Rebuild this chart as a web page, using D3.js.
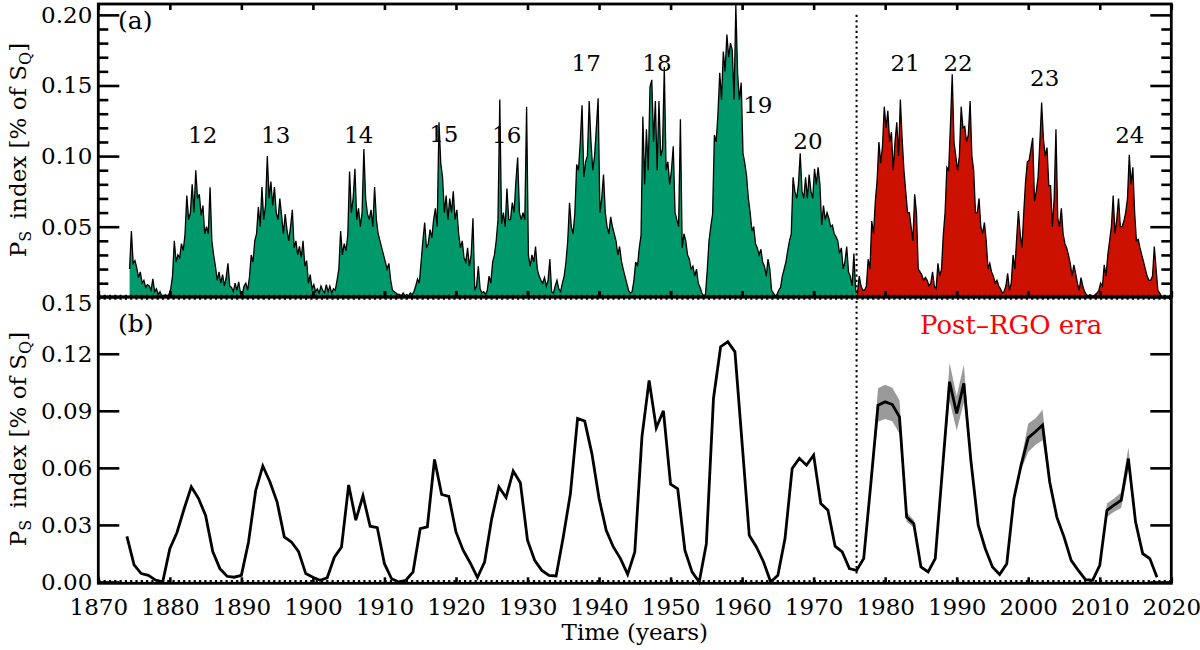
<!DOCTYPE html>
<html><head><meta charset="utf-8">
<script src="https://cdn.jsdelivr.net/npm/d3@7"></script>
<style>
body{margin:0;background:#fff}
svg{display:block}
text{font-family:"DejaVu Serif",serif;fill:#000}
</style>
</head><body>
<svg id="c" width="1200" height="650"></svg>
<script>
// ---------- DATA ----------
// Panel (a): PS index, quarterly samples, units of 0.001 % of SQ
const psStart = 1874.375;
const psStep = 0.25;
const psQuarterly = [
 20,47,24,
 26,21,14,18, 10,12,7,9, 8,5,13,4, 6,2,4,1, 1,2,1,2,
 6,15,40,25, 30,28,38,33, 45,72,55,60, 80,60,90,70, 73,58,65,45,
 50,45,78,40, 30,22,12,18, 10,16,8,14, 24,8,7,4, 10,5,11,3,
 2,8,10,5, 14,30,25,40, 45,64,50,78, 55,65,100,70, 82,65,78,60,
 55,70,58,45, 59,48,40,50, 62,35,40,30, 36,28,40,22, 26,10,16,6,
 9,4,6,3, 8,5,3,9, 4,8,3,6, 5,12,20,47, 30,38,33,44,
 89,60,70,91, 55,63,50,60, 105,70,59,55, 62,50,78,55, 45,40,35,30,
 25,20,24,12, 5,4,3,2, 2,1,3,1, 2,1,3,2, 4,8,13,10,
 25,40,53,35, 38,48,42,55, 63,50,124,95, 85,60,72,55, 70,60,75,55,
 62,45,35,40, 28,25,35,22, 30,56,5,8, 22,6,3,4, 2,5,15,10,
 25,30,40,55, 140,52,60,50, 77,55,55,67, 60,82,99,60, 55,60,55,135,
 30,22,30,25, 36,20,15,12, 10,14,8,12, 27,4,3,8, 12,6,4,10,
 15,25,40,67, 50,45,60,94, 90,110,136,85, 96,100,139,110, 90,100,120,141,
 60,70,87,60, 50,45,57,50, 45,40,30,36, 26,20,15,10, 5,3,4,12,
 25,22,35,44, 128,80,119,90, 149,154,110,139, 90,139,100,105, 163,90,96,80,
 90,107,60,55, 50,126,35,45, 40,30,27,20, 22,15,20,10, 7,3,1,2,
 19,40,50,59, 115,110,130,159, 140,174,160,186, 170,180,175,140, 207,158,140,152,
 102,95,86,70, 60,47,50,38, 35,30,34,25, 22,15,27,20, 5,3,1,2,
 5,7,15,20, 25,33,40,45, 85,75,70,80, 102,75,70,85, 70,87,75,70,
 91,80,92,80, 51,65,55,60, 56,50,51,45, 43,40,31,35, 20,25,36,18,
 15,8,31,5, 3,15,8,5, 5,8,27,20, 54,45,68,83, 110,95,107,135,
 120,132,110,117, 90,110,124,100, 140,112,90,75, 60,60,50,40, 73,60,20,18,
 16,12,14,12, 8,10,18,8, 6,24,15,20, 44,60,92,90, 122,158,110,100,
 90,100,135,120, 121,110,115,139, 100,90,60,60, 70,50,45,53, 40,20,24,18,
 15,10,12,8, 6,3,4,8, 17,5,10,30, 20,41,61,45, 35,60,82,96,
 97,105,113,68, 75,85,110,138, 112,100,106,79, 79,50,70,119, 56,50,63,45,
 38,35,30,24, 15,23,17,10, 5,14,8,4, 2,1,2,1, 1,2,3,5,
 10,8,23,15, 30,40,50,72, 45,55,70,50, 50,54,60,70, 101,80,92,60,
 40,41,35,30, 25,20,15,12, 12,15,36,20, 5,3,1
];
const eraSplitYear = 1976;   // start of post-RGO era
const cycleNames  = ["12","13","14","15","16","17","18","19","20","21","22","23","24"];
const cycleYears  = [1884.6,1894.8,1906.4,1918.3,1927.1,1938.2,1948.1,1962.2,1969.2,1982.8,1990.2,2002.3,2014.2];
const cycleLevels = [0.115,0.115,0.115,0.1155,0.115,0.166,0.166,0.136,0.111,0.166,0.166,0.1555,0.115];

// Panel (b): annual PS index, units of 0.001 % of SQ
const annualStart = 1874;
const psAnnual = [
 24,9,4.4,3.5,1,0,                          // 1874-1879
 17.5,26,38.5,50,44,35,16,7,3,2.5,           // 1880-1889
 3.5,21,48,61,52.6,42,23.7,21,16,4.4,        // 1890-1899
 2.5,0.9,2.2,13,18.4,51,32.5,45.3,29.3,28.6, // 1900-1909
 9.6,1.7,0,0.9,5.3,28,29,64.4,46,45,         // 1910-1919
 26.3,16.7,10,2.3,10.5,33.3,50,44.4,58.3,52.2, // 1920-1929
 22,11.4,6.1,3.5,3.2,23.7,46.5,86,84.6,67.5, // 1930-1939
 44,27.2,18.4,12.3,4,15.8,76.3,106,81,90,    // 1940-1949
 51.4,49,16.7,5.3,0,20,96.5,123.7,126.3,121, // 1950-1959
 73,24.6,18.4,10.5,0,3.5,22.8,59.7,65,61.4,  // 1960-1969
 66.7,41.2,37.7,18.8,15.8,7,6.1,12.3,51.8,93, // 1970-1979
 94.7,93.3,86.8,34.1,30.6,7.9,5.3,12.3,58.8,105.3, // 1980-1989
 88.6,104.4,63.3,30,17.5,7.9,3.9,9.6,43.9,61.4,   // 1990-1999
 75.8,79,82.5,52.6,34.1,23.7,11.4,6.1,1.2,0.9,    // 2000-2009
 8.8,37.7,40.4,43,64.9,31.6,14.9,12.3,2.5         // 2010-2018
];
// uncertainty (half-width) of annual values from 1976 on, units of 0.001 %
const errStart = 1976;
const psAnnualErr = [
 0.3,0.5,1.5,8.8,                      // 1976-1979
 9,8.8,8.8,2.5,2,0.8,0.6,1,3,10,       // 1980-1989
 9,10,3,1.5,1,0.6,0.4,0.6,1.5,2.5,     // 1990-1999
 7.5,7,8,2.5,1.5,1,0.8,0.5,0.2,0.2,    // 2000-2009
 0.8,3.5,3.5,4,6,1.5,1,1,0.5           // 2010-2018
];
const xTicks = [1870,1880,1890,1900,1910,1920,1930,1940,1950,1960,1970,1980,1990,2000,2010,2020];
const yTopTicks = [0.05,0.10,0.15,0.20];
const yBotTicks = [0.00,0.03,0.06,0.09,0.12,0.15];

// ---------- CHART ----------
const svg = d3.select("#c");
const L = 98.3, R = 1171.3, T = 4, MID = 297, B = 583.3;
const FS = 23;
const x = d3.scaleLinear().domain([1870,2020]).range([L,R]);
const yTop = d3.scaleLinear().domain([0,0.2077]).range([297.3,T]);
const yBot = d3.scaleLinear().domain([-0.0007,0.15]).range([B,296.7]);

const quarterly = psQuarterly.map((v,i)=>({t:psStart+i*psStep, v:v/1000}));
const annual = psAnnual.map((v,i)=>({t:annualStart+i, v:v/1000}));
const band = psAnnualErr.map((e,i)=>{
  const t = errStart+i; const v = psAnnual[t-annualStart]/1000;
  return {t, lo:v-e/1000, hi:v+e/1000};
});

const defs = svg.append("defs");
defs.append("clipPath").attr("id","clipG").append("rect")
  .attr("x",L).attr("y",T).attr("width",x(eraSplitYear)-L).attr("height",MID-T);
defs.append("clipPath").attr("id","clipR").append("rect")
  .attr("x",x(eraSplitYear)).attr("y",T).attr("width",R-x(eraSplitYear)).attr("height",MID-T);

const area = d3.area().x(d=>x(d.t)).y0(yTop(0)).y1(d=>yTop(d.v));
const line = d3.line().x(d=>x(d.t)).y(d=>yTop(d.v));
svg.append("path").datum(quarterly).attr("d",area).attr("fill","#00996b").attr("clip-path","url(#clipG)");
svg.append("path").datum(quarterly).attr("d",area).attr("fill","#cc1100").attr("clip-path","url(#clipR)");
svg.append("path").datum(quarterly).attr("d",line).attr("fill","none").attr("stroke","#000").attr("stroke-width",1.3);

// cycle numbers
svg.append("g").selectAll("text").data(cycleNames).join("text")
  .attr("x",(d,i)=>x(cycleYears[i])).attr("y",(d,i)=>yTop(cycleLevels[i]))
  .attr("text-anchor","middle").attr("dominant-baseline","central")
  .attr("font-size",FS).text(d=>d);

// bottom panel band + line
svg.append("path").datum(band)
  .attr("d",d3.area().x(d=>x(d.t)).y0(d=>yBot(d.lo)).y1(d=>yBot(d.hi)))
  .attr("fill","#9a9a9a");
svg.append("path").datum(annual)
  .attr("d",d3.line().x(d=>x(d.t)).y(d=>yBot(d.v)))
  .attr("fill","none").attr("stroke","#000").attr("stroke-width",2.8);

// dotted lines
const dot = "2.2,3.1";
svg.append("line").attr("x1",x(eraSplitYear)).attr("x2",x(eraSplitYear))
  .attr("y1",yTop(0.20)).attr("y2",yBot(0.0035))
  .attr("stroke","#000").attr("stroke-width",2).attr("stroke-dasharray",dot);
svg.append("line").attr("x1",L).attr("x2",R).attr("y1",yTop(0)).attr("y2",yTop(0))
  .attr("stroke","#000").attr("stroke-width",5).attr("stroke-dasharray",dot);
svg.append("line").attr("x1",L).attr("x2",R).attr("y1",yBot(0)-0.5).attr("y2",yBot(0)-0.5)
  .attr("stroke","#000").attr("stroke-width",3).attr("stroke-dasharray",dot);

// axes
function styleAxis(g){
  g.select(".domain").remove();
  g.selectAll(".tick line").attr("stroke","#000").attr("stroke-width",2.6);
  g.selectAll(".tick text").attr("font-size",FS).attr("font-family","DejaVu Serif").attr("fill","#000");
}
const fmt = d3.format(".2f");
const minorTop = d3.range(1,21).map(i=>i/100).filter(v=>Math.round(v*100)%5!==0);

svg.append("g").attr("transform",`translate(${L},0)`)
  .call(d3.axisLeft(yTop).tickValues(yTopTicks).tickSize(-21).tickPadding(6).tickFormat(fmt)).call(styleAxis);
svg.append("g").attr("transform",`translate(${L},0)`)
  .call(d3.axisLeft(yTop).tickValues(minorTop).tickSize(-10).tickFormat("")).call(styleAxis);
svg.append("g").attr("transform",`translate(${R},0)`)
  .call(d3.axisRight(yTop).tickValues(yTopTicks).tickSize(-21).tickFormat("")).call(styleAxis);
svg.append("g").attr("transform",`translate(${R},0)`)
  .call(d3.axisRight(yTop).tickValues(minorTop).tickSize(-10).tickFormat("")).call(styleAxis);

const gBL = svg.append("g").attr("transform",`translate(${L},0)`)
  .call(d3.axisLeft(yBot).tickValues(yBotTicks).tickSize(-21).tickPadding(6).tickFormat(fmt)).call(styleAxis);
gBL.selectAll(".tick").filter(d=>d===0.15).select("text").attr("dy","0.6em");
svg.append("g").attr("transform",`translate(${R},0)`)
  .call(d3.axisRight(yBot).tickValues(yBotTicks).tickSize(-21).tickFormat("")).call(styleAxis);

svg.append("g").attr("transform",`translate(0,${T})`)
  .call(d3.axisTop(x).tickValues(xTicks).tickSize(-6).tickFormat("")).call(styleAxis);
svg.append("g").attr("transform",`translate(0,${MID})`)
  .call(d3.axisTop(x).tickValues(xTicks).tickSize(6).tickFormat("")).call(styleAxis);
svg.append("g").attr("transform",`translate(0,${MID})`)
  .call(d3.axisBottom(x).tickValues(xTicks).tickSize(-6).tickFormat("")).call(styleAxis);
svg.append("g").attr("transform",`translate(0,${B})`)
  .call(d3.axisBottom(x).tickValues(xTicks).tickSize(-6).tickPadding(15).tickFormat(d3.format("d"))).call(styleAxis);

// frames
svg.append("rect").attr("x",L).attr("y",T).attr("width",R-L).attr("height",MID-T)
  .attr("fill","none").attr("stroke","#000").attr("stroke-width",2.8);
svg.append("rect").attr("x",L).attr("y",MID).attr("width",R-L).attr("height",B-MID)
  .attr("fill","none").attr("stroke","#000").attr("stroke-width",2.8);

// texts
svg.append("text").attr("x",118).attr("y",29).attr("font-size",25).text("(a)");
svg.append("text").attr("x",118).attr("y",332).attr("font-size",25).text("(b)");
svg.append("text").attr("x",920).attr("y",334).attr("font-size",26).style("fill","#ff0000").text("Post\u2013RGO era");
svg.append("text").attr("x",(L+R)/2).attr("y",640).attr("font-size",FS).attr("text-anchor","middle").text("Time (years)");

function yLabel(cy){
  const t = svg.append("text").attr("transform",`translate(26,${cy}) rotate(-90)`)
    .attr("text-anchor","middle").attr("font-size",FS);
  t.append("tspan").text("P");
  t.append("tspan").attr("font-size",16).attr("dy",5).text("S");
  t.append("tspan").attr("dy",-5).text("\u2002index [% of S");
  t.append("tspan").attr("font-size",16).attr("dy",5).text("Q");
  t.append("tspan").attr("dy",-5).text("]");
}
yLabel(150);
yLabel(439);
</script>
</body></html>
